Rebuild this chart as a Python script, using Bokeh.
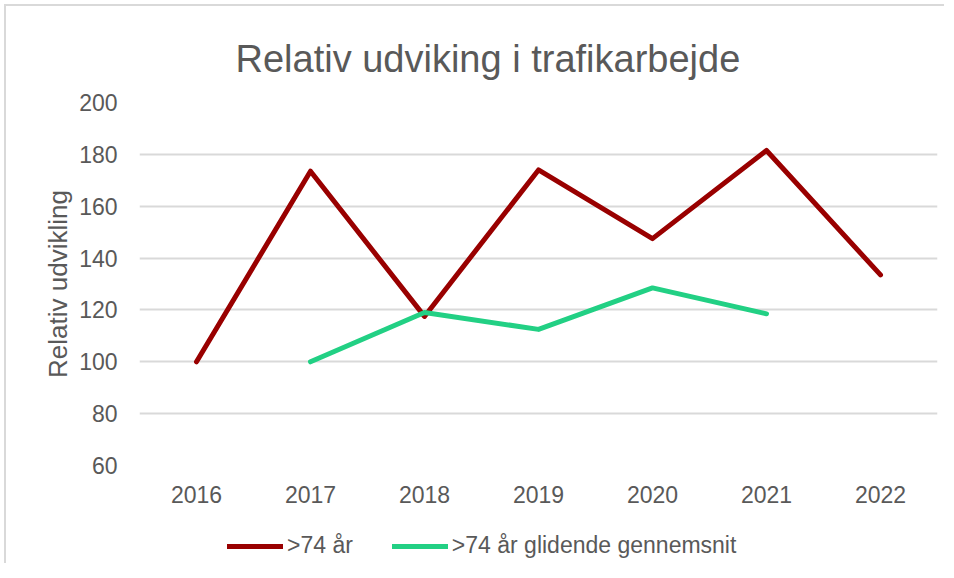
from bokeh.plotting import figure
from bokeh.models import Legend, LegendItem, Title, Range1d
from bokeh.layouts import column
from bokeh.embed import file_html
from bokeh.resources import INLINE

years = ["2016", "2017", "2018", "2019", "2020", "2021", "2022"]
over74 = [100, 173.5, 117.5, 174, 147.5, 181.5, 133.5]
avg_years = ["2017", "2018", "2019", "2020", "2021"]
over74_avg = [100, 119, 112.5, 128.5, 118.5]

title_text = "Relativ udviking i trafikarbejde"
y_label = "Relativ udvikling"
name_red = ">74 år"
name_green = ">74 år glidende gennemsnit"

FONT = "Liberation Sans"
TXT = "#595959"
RED = "#990000"
GREEN = "#22D084"

p = figure(x_range=years, y_range=(60, 200), width=938, height=505,
           output_backend="svg", toolbar_location=None,
           min_border_left=133, min_border_right=7,
           min_border_top=96, min_border_bottom=46)
p.title = None
t = Title(text=title_text, text_font=FONT, text_font_size="38px",
          text_color=TXT, text_font_style="normal", align="left",
          offset=96, standoff=45)
p.add_layout(t, "above")

p.outline_line_color = None
p.background_fill_color = "white"
p.border_fill_color = "white"

p.xgrid.grid_line_color = None
p.ygrid.grid_line_color = "#D9D9D9"
p.ygrid.grid_line_width = 2

p.yaxis.ticker = [60, 80, 100, 120, 140, 160, 180, 200]
for ax in (p.xaxis[0], p.yaxis[0]):
    ax.axis_line_color = None
    ax.major_tick_line_color = None
    ax.minor_tick_line_color = None
    ax.major_label_text_font = FONT
    ax.major_label_text_font_size = "23px"
    ax.major_label_text_color = TXT
p.yaxis.major_label_standoff = 16
p.xaxis.major_label_standoff = 14
p.yaxis.axis_label = y_label
p.yaxis.axis_label_text_font = FONT
p.yaxis.axis_label_text_font_size = "26px"
p.yaxis.axis_label_text_font_style = "normal"
p.yaxis.axis_label_text_color = TXT
p.yaxis.axis_label_standoff = 3

p.line(years, over74, line_color=RED, line_width=5,
       line_cap="round", line_join="round")
p.line(avg_years, over74_avg, line_color=GREEN, line_width=5,
       line_cap="round", line_join="round")

# legend strip below the chart (its lines lie outside its own y range)
lg = figure(x_range=p.x_range, y_range=Range1d(1000, 1001), width=938, height=52,
            output_backend="svg", toolbar_location=None,
            x_axis_type=None, y_axis_type=None,
            min_border_left=0, min_border_right=0,
            min_border_top=0, min_border_bottom=0)
lg.outline_line_color = None
lg.background_fill_color = "white"
lg.border_fill_color = "white"
l1 = lg.line(years, over74, line_color=RED, line_width=5,
             line_cap="round", line_join="round")
l2 = lg.line(avg_years, over74_avg, line_color=GREEN, line_width=5,
             line_cap="round", line_join="round")

legend = Legend(items=[LegendItem(label=name_red, renderers=[l1]),
                       LegendItem(label=name_green, renderers=[l2])],
                orientation="horizontal", location=(88, 4),
                label_text_font=FONT, label_text_font_size="23px",
                label_text_color=TXT, glyph_width=56, glyph_height=20,
                label_height=20, label_standoff=4, spacing=39,
                padding=0, margin=0, border_line_color=None,
                background_fill_alpha=0)
lg.add_layout(legend, "center")

layout = column(p, lg, spacing=0,
                styles={"border-left": "2px solid #D9D9D9",
                        "border-top": "2px solid #D9D9D9",
                        "margin-left": "4px", "margin-top": "4px"})
open("out.html", "w").write(file_html(layout, INLINE))
